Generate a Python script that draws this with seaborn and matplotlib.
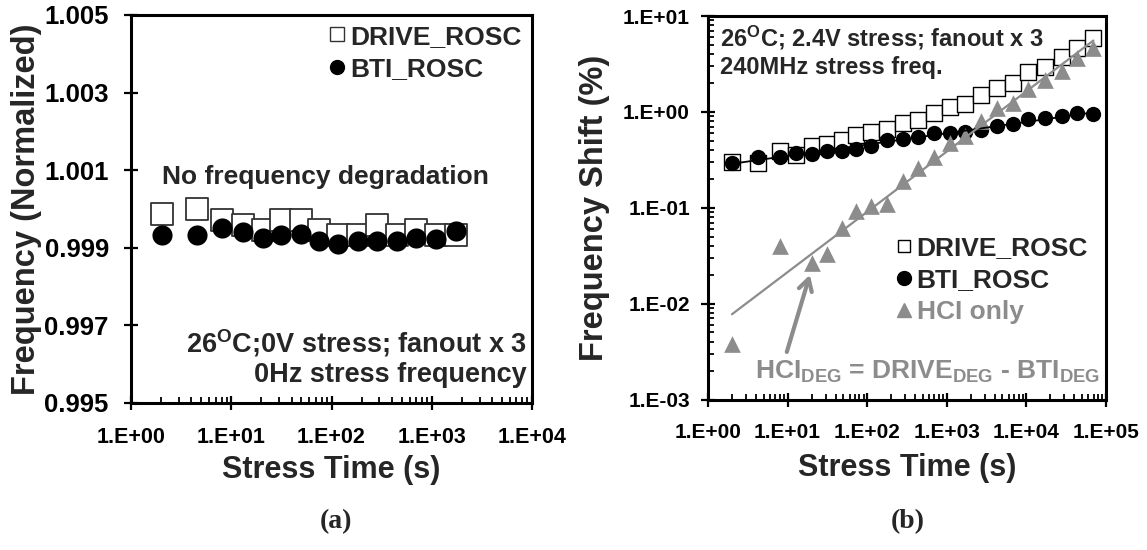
import numpy as np
import pandas as pd
import matplotlib
matplotlib.use("Agg")
import matplotlib.pyplot as plt
import seaborn as sns
from matplotlib.ticker import FixedLocator, FuncFormatter, LogLocator, NullFormatter
from matplotlib.lines import Line2D

# ---------------- data ----------------
# panel (a): 0 V stress
a_time = [2.05, 4.6, 8.1, 13.1, 20.7, 31.6, 49.7, 75.2, 117, 185, 285, 454, 697, 1100, 1750]
a_drive = [0.99986, 1.00000, 0.99972, 0.99960, 0.99947, 0.99972, 0.99972, 0.99947,
           0.99934, 0.99934, 0.99960, 0.99934, 0.99947, 0.99934, 0.99932]
a_bti = [0.99933, 0.99933, 0.99952, 0.99941, 0.99924, 0.99933, 0.99936, 0.99918,
         0.99909, 0.99918, 0.99918, 0.99918, 0.99924, 0.99923, 0.99943]

# panel (b): 2.4 V stress
b_time = [2, 4.3, 8, 12.6, 20, 31, 48, 72, 112, 175, 280, 435, 690, 1100, 1710,
          2700, 4230, 6800, 10600, 17100, 27700, 42700, 69400]
b_drive = [0.301, 0.292, 0.388, 0.354, 0.436, 0.465, 0.512, 0.572, 0.620, 0.664, 0.764,
           0.830, 0.972, 1.13, 1.21, 1.50, 1.785, 2.02, 2.60, 2.96, 3.77, 4.69, 5.85]
b_bti = [0.292, 0.34, 0.338, 0.372, 0.367, 0.388, 0.393, 0.412, 0.436, 0.512, 0.52,
         0.545, 0.60, 0.606, 0.618, 0.64, 0.705, 0.74, 0.84, 0.862, 0.897, 0.965, 0.95]
hci_time = [2, 8, 20, 31, 48, 72, 112, 175, 280, 435, 690, 1100, 1710,
            2700, 4230, 6800, 10600, 17100, 27700, 42700, 69400]
hci_shift = [0.0038, 0.040, 0.0264, 0.0332, 0.062, 0.093, 0.104, 0.110, 0.188, 0.257,
             0.340, 0.474, 0.560, 0.800, 1.10, 1.25, 1.74, 2.16, 2.70, 3.64, 4.60]

a_yticks = [0.995, 0.997, 0.999, 1.001, 1.003, 1.005]

GRAY = "#8c8c8c"

# ---------------- style ----------------
sns.set_theme(style="white")
plt.rcParams['font.family'] = ['Liberation Sans', 'DejaVu Sans']
plt.rcParams['font.weight'] = 'bold'
plt.rcParams['axes.labelweight'] = 'bold'
plt.rcParams['mathtext.fontset'] = 'custom'
plt.rcParams['mathtext.rm'] = 'Liberation Sans:bold'
plt.rcParams['mathtext.bf'] = 'Liberation Sans:bold'
plt.rcParams['mathtext.it'] = 'Liberation Sans:bold'

W, H = 1147, 550
fig = plt.figure(figsize=(W / 100, H / 100), dpi=100)
axa = fig.add_axes([131 / W, 1 - 403 / H, 401 / W, 388 / H])
axb = fig.add_axes([708 / W, 1 - 399.5 / H, 398 / W, 383.5 / H])


def sci_fmt(v, pos):
    e = int(round(np.log10(v)))
    return f"1.E{e:+03d}"


def style_axes(ax, xfs, yfs, ypad):
    for s in ax.spines.values():
        s.set_linewidth(2.2)
        s.set_color('black')
    ax.tick_params(which='both', bottom=True, left=True, top=False, right=False)
    ax.tick_params(which='major', direction='inout', length=10, width=1.6,
                   colors='black')
    ax.tick_params(which='minor', direction='in', length=4.5, width=1.3, colors='black')
    ax.tick_params(axis='x', which='major', pad=12, labelsize=xfs)
    ax.tick_params(axis='y', which='major', pad=ypad, labelsize=yfs)
    for lab in ax.get_xticklabels() + ax.get_yticklabels():
        lab.set_fontweight('bold')


# ---------------- panel (a) ----------------
da = pd.DataFrame({"t": a_time, "drive": a_drive, "bti": a_bti})
sns.scatterplot(data=da, x="t", y="drive", marker="s", s=15.5 ** 2, color="white",
                edgecolor="#333333", linewidth=1.3, ax=axa, zorder=2)
sns.scatterplot(data=da, x="t", y="bti", marker="o", s=14.5 ** 2, color="black",
                edgecolor="black", linewidth=0, ax=axa, zorder=3)
axa.set_xscale('log')
axa.set_xlim(1, 1e4)
axa.set_ylim(0.995, 1.005)
axa.xaxis.set_major_locator(LogLocator(base=10, numticks=10))
axa.xaxis.set_minor_locator(LogLocator(base=10, subs=np.arange(2, 10), numticks=20))
axa.xaxis.set_major_formatter(FuncFormatter(sci_fmt))
axa.xaxis.set_minor_formatter(NullFormatter())
axa.yaxis.set_major_locator(FixedLocator(a_yticks))
axa.yaxis.set_major_formatter(FuncFormatter(lambda v, p: f"{v:.3f}"))
style_axes(axa, 15.5, 18.5, 11)
axa.set_xlabel("Stress Time (s)", fontsize=22, fontweight='bold', labelpad=5)
axa.set_ylabel("Frequency (Normalized)", fontsize=23.5, fontweight='bold')
axa.yaxis.set_label_coords(-0.222, 0.5)

ha = [Line2D([], [], marker='s', ls='', mfc='white', mec='#333333', ms=10, mew=1.0),
      Line2D([], [], marker='o', ls='', mfc='black', mec='black', ms=10)]
la = axa.legend(ha, ["DRIVE_ROSC", "BTI_ROSC"], loc='upper right',
                bbox_to_anchor=(0.975, 0.975), frameon=False, fontsize=19,
                handlelength=0.6, handletextpad=0.2, labelspacing=0.32,
                borderpad=0, borderaxespad=0)
for t in la.get_texts():
    t.set_fontweight('bold')

axa.text(0.486, 0.582, "No frequency degradation", transform=axa.transAxes,
         ha='center', va='center', fontsize=19, fontweight='bold')
axa.text(0.988, 0.155, r"26$^{\mathrm{O}}$C;0V stress; fanout x 3", transform=axa.transAxes,
         ha='right', va='center', fontsize=19.5, fontweight='bold')
axa.text(0.988, 0.072, "0Hz stress frequency", transform=axa.transAxes,
         ha='right', va='center', fontsize=19.5, fontweight='bold')

# ---------------- panel (b) ----------------
db = pd.DataFrame({"t": b_time, "drive": b_drive, "bti": b_bti})
dh = pd.DataFrame({"t": hci_time, "hci": hci_shift})
sns.scatterplot(data=db, x="t", y="drive", marker="s", s=11 ** 2, color="white",
                edgecolor="black", linewidth=1.0, ax=axb, zorder=2)
sns.scatterplot(data=db, x="t", y="bti", marker="o", s=11 ** 2, color="black",
                edgecolor="black", linewidth=0, ax=axb, zorder=3)
sns.scatterplot(data=dh, x="t", y="hci", marker="^", s=12 ** 2, color=GRAY,
                edgecolor=GRAY, linewidth=0, ax=axb, zorder=4)

# power-law trendlines fitted to the data (as Excel does)
for xs, ys, col, lw in [(b_time, b_bti, 'black', 1.3), (hci_time, hci_shift, GRAY, 1.6)]:
    k, c = np.polyfit(np.log10(xs), np.log10(ys), 1)
    xx = np.array([min(xs), max(xs)])
    axb.plot(xx, 10 ** (c + k * np.log10(xx)), color=col, lw=lw, zorder=5)

axb.set_xscale('log')
axb.set_yscale('log')
axb.set_xlim(1, 1e5)
axb.set_ylim(1e-3, 1e1)
for axis in (axb.xaxis, axb.yaxis):
    axis.set_major_locator(LogLocator(base=10, numticks=10))
    axis.set_minor_locator(LogLocator(base=10, subs=np.arange(2, 10), numticks=40))
    axis.set_major_formatter(FuncFormatter(sci_fmt))
    axis.set_minor_formatter(NullFormatter())
style_axes(axb, 15, 15, 8)
axb.set_xlabel("Stress Time (s)", fontsize=22, fontweight='bold', labelpad=7.5)
axb.set_ylabel("Frequency Shift (%)", fontsize=23.5, fontweight='bold')
axb.yaxis.set_label_coords(-0.246, 0.5)

hb = [Line2D([], [], marker='s', ls='', mfc='white', mec='black', ms=9, mew=1.0),
      Line2D([], [], marker='o', ls='', mfc='black', mec='black', ms=10),
      Line2D([], [], marker='^', ls='', mfc=GRAY, mec=GRAY, ms=10)]
lb = axb.legend(hb, ["DRIVE_ROSC", "BTI_ROSC", "HCI only"], loc='upper right',
                bbox_to_anchor=(0.955, 0.425), frameon=False, fontsize=19,
                handlelength=0.6, handletextpad=0.2, labelspacing=0.3,
                borderpad=0, borderaxespad=0)
for t in lb.get_texts():
    t.set_fontweight('bold')
lb.get_texts()[2].set_color(GRAY)

axb.text(0.03, 0.943, r"26$^{\mathrm{O}}$C; 2.4V stress; fanout x 3", transform=axb.transAxes,
         ha='left', va='center', fontsize=17, fontweight='bold')
axb.text(0.03, 0.867, "240MHz stress freq.", transform=axb.transAxes,
         ha='left', va='center', fontsize=17, fontweight='bold')
axb.text(0.985, 0.072,
         r"HCI$_{\mathrm{DEG}}$ = DRIVE$_{\mathrm{DEG}}$ - BTI$_{\mathrm{DEG}}$",
         transform=axb.transAxes, ha='right', va='center', fontsize=19,
         fontweight='bold', color=GRAY)
axb.annotate("", xy=(0.256, 0.325), xytext=(0.198, 0.124),
             xycoords='axes fraction', textcoords='axes fraction',
             arrowprops=dict(arrowstyle='->,head_length=0.7,head_width=0.4',
                             color=GRAY, lw=3, shrinkA=0, shrinkB=0))

# panel letters
fig.text(336 / W, 1 - 522 / H, "(a)", ha='center', va='center', fontsize=20,
         fontweight='bold', family=['Liberation Serif', 'DejaVu Serif'])
fig.text(908 / W, 1 - 522 / H, "(b)", ha='center', va='center', fontsize=20,
         fontweight='bold', family=['Liberation Serif', 'DejaVu Serif'])

fig.savefig("out.png", dpi=100, facecolor='white')
